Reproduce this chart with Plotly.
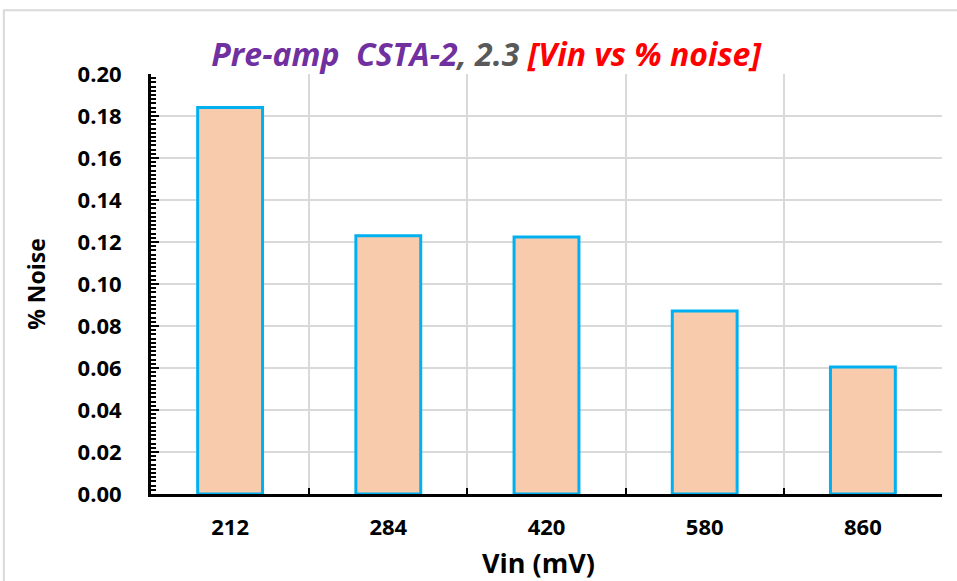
import plotly.graph_objects as go

# Input voltage categories and measured noise
vin_mv = ["212", "284", "420", "580", "860"]
noise_pct = [0.184, 0.123, 0.1224, 0.0872, 0.0605]

y_ticks = [0.00, 0.02, 0.04, 0.06, 0.08, 0.10, 0.12, 0.14, 0.16, 0.18, 0.20]
y_tick_text = [f"{v:.2f}" for v in y_ticks]

FONT = "Open Sans"

fig = go.Figure()
fig.add_trace(go.Bar(
    x=vin_mv,
    y=noise_pct,
    width=0.41,
    marker=dict(color="#F8CBAD", line=dict(color="#00B0F0", width=3)),
    showlegend=False,
))

title_html = (
    "<b><i><span style='color:#7030A0'>Pre-amp  CSTA-2</span>"
    "<span style='color:#595959'>, 2.3 </span>"
    "<span style='color:#FF0000'>[Vin vs % noise]</span></i></b>"
)

fig.update_layout(
    width=957,
    height=581,
    margin=dict(l=151, r=15, t=74, b=87, autoexpand=False),
    paper_bgcolor="white",
    plot_bgcolor="white",
    font=dict(family=FONT, color="black"),
    title=dict(
        text=title_html,
        x=0.508, xanchor="center",
        y=0.905, yanchor="middle",
        font=dict(family=FONT, size=32),
    ),
    xaxis=dict(
        type="category",
        automargin=False,
        tickson="boundaries",
        ticks="inside",
        ticklen=6,
        tickwidth=2,
        tickcolor="black",
        showgrid=True,
        gridcolor="#D9D9D9",
        gridwidth=2,
        showline=True,
        linecolor="black",
        linewidth=3,
        tickfont=dict(family=FONT, size=22, color="black", weight="bold"),
        ticklabelstandoff=12,
    ),
    yaxis=dict(
        range=[0, 0.2],
        automargin=False,
        tickvals=y_ticks,
        ticktext=y_tick_text,
        ticks="inside",
        ticklen=8,
        tickwidth=2,
        tickcolor="black",
        showgrid=True,
        gridcolor="#D9D9D9",
        gridwidth=2,
        showline=True,
        linecolor="black",
        linewidth=3,
        zeroline=False,
        minor=dict(dtick=0.002, tick0=0, ticks="inside", ticklen=5, tickwidth=2,
                   tickcolor="black", showgrid=False),
        tickfont=dict(family=FONT, size=22, color="black", weight="bold"),
        ticklabelstandoff=22,
        title=dict(text="<b>% Noise</b>", font=dict(family=FONT, size=23), standoff=26),
    ),
    annotations=[
        dict(text="<b>Vin (mV)</b>", xref="paper", yref="paper",
             x=0.49, y=-0.162, xanchor="center", yanchor="middle",
             showarrow=False, font=dict(family=FONT, size=27, color="black")),
    ],
    shapes=[
        dict(type="rect", xref="paper", yref="paper",
             x0=-0.186, x1=1.05, y0=-0.3, y1=1.152,
             line=dict(color="#D9D9D9", width=2), layer="below"),
    ],
)

fig.write_html("out.html")
